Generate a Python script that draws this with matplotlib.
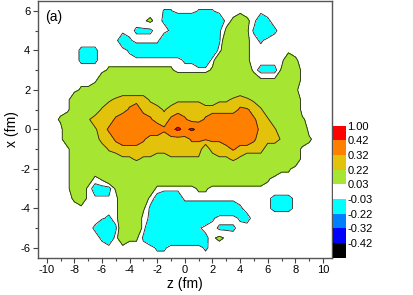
import numpy as np
import matplotlib
matplotlib.use('Agg')
import matplotlib.pyplot as plt
from matplotlib.ticker import MultipleLocator

plt.rcParams['font.family'] = ['Liberation Sans', 'DejaVu Sans']
plt.rcParams['axes.unicode_minus'] = False
plt.rcParams['contour.negative_linestyle'] = 'solid'

# grid nodes (fm)
z_nodes = np.linspace(-10.5, 10.5, 43)
x_nodes = np.linspace(6.5, -6.5, 27)

# value codes used in the field map (per colour band)
code_values = {
    '.': 0.0, 'c': -0.12, 'n': -0.06, 'k': -0.045, 'j': -0.035, 'm': -0.02,
    'p': 0.02, 'h': 0.045, 'g': 0.12, 'G': 0.20, 'w': 0.24, 'y': 0.29,
    'q': 0.33, 'o': 0.37, 'O': 0.40, 'r': 0.435,
}

# run-length encoded rows, x = 6.5 (top) ... -6.5 (bottom), z = -10.5 ... 10.5
field_rows = [
    "43.",
    "18. 2j 3. 3j 17.",
    "15. 1p 1h 1. 1k 8c 1. 1h 1g 1h 1. 1c 1k 9.",
    "14. 3k 2. 1k 6c 1k 1h 2g 1h 1k 2c 1k 8.",
    "12. 1c 1k 4. 8c 1k 3g 1h 1. 1k 10.",
    "6. 3k 4. 1k 12c 1. 3g 1h 12.",
    "6. 3k 12. 2k 2c 1. 4g 1h 5. 1g 1h 5.",
    "10. 10h 5. 1h 5g 1. 3n 1h 2g 5.",
    "9. 23g 3h 3g 5.",
    "6. 2h 29g 1h 5.",
    "5. 5g 1G 1w 4y 1G 3g 4G 2g 2G 1w 1y 1w 1G 6g 5.",
    "5. 4g 1w 3y 1q 1o 3y 1G 10y 2q 1y 1w 5g 5.",
    "3. 1h 3g 1G 3y 1q 4o 1q 2y 1q 1o 1q 2y 1q 6o 1q 1y 1w 4g 1h 4.",
    "4. 4g 1G 1y 1q 7o 1q 1O 1r 1O 1r 1O 8o 2y 1w 4g 4.",
    "4. 5g 2y 1q 3o 1q 6y 5q 4o 1q 3y 1G 3g 1h 3.",
    "5. 5g 1w 13y 1g 3y 1q 4y 5g 5.",
    "5. 7g 2G 1w 2G 2g 5G 2g 2G 1w 1G 8g 5.",
    "5. 30g 2h 6.",
    "5. 3g 1. 1h 23g 1h 9.",
    "5. 2g 1. 3n 1h 5g 6. 2h 18.",
    "5. 1h 1g 1. 3m 1. 4g 1. 1n 3c 12. 1m 3k 1m 5.",
    "12. 3g 1h 1k 12c 1k 3. 1m 3k 1m 5.",
    "9. 1m 1k 1. 3g 1. 1k 8c 1k 3. 1k 1n 12.",
    "8. 1k 2c 1k 3g 1. 7c 1k 2. 3k 14.",
    "9. 1k 1c 1. 1g 2h 1k 8c 1n 1p 1h 1p 15.",
    "17. 2k 5. 1k 18.",
    "43.",
]

levels = [-1.0, -0.42, -0.32, -0.22, -0.03, 0.03, 0.22, 0.32, 0.42, 1.00]
band_colors = ['#000000', '#0000ff', '#0080ff', '#00ffff', '#ffffff',
               '#a6e633', '#e2c20a', '#ff8000', '#ff0000']
cbar_labels = ['-0.42', '-0.32', '-0.22', '-0.03', '0.03', '0.22', '0.32', '0.42', '1.00']


def decode(row):
    out = []
    for tok in row.split():
        out.extend([code_values[tok[-1]]] * int(tok[:-1]))
    if len(out) != len(z_nodes):
        raise ValueError("bad row length %d: %s" % (len(out), row))
    return out


Z = np.array([decode(r) for r in field_rows])

W, H = 414, 295
fig = plt.figure(figsize=(W / 100, H / 100), dpi=100)
ax = fig.add_axes([38 / W, 1 - 257.7 / H, (331.7 - 38) / W, (257.7 - 1) / H])

cf = ax.contourf(z_nodes, x_nodes, Z, levels=levels, colors=band_colors)
ax.contour(z_nodes, x_nodes, Z, levels=levels[1:-1], colors='#222222',
           linewidths=0.6, linestyles='solid')

ax.set_xlim(-10.63, 10.63)
ax.set_ylim(-6.5, 6.5)
ax.xaxis.set_major_locator(MultipleLocator(2))
ax.xaxis.set_minor_locator(MultipleLocator(1))
ax.yaxis.set_major_locator(MultipleLocator(2))
ax.yaxis.set_minor_locator(MultipleLocator(1))
ax.tick_params(which='both', direction='out', top=False, right=False,
               color='#444444', labelsize=8, pad=2)
ax.tick_params(which='major', length=3.5, width=0.8)
ax.tick_params(which='minor', length=2, width=0.8)
for s in ax.spines.values():
    s.set_color('#555555')
    s.set_linewidth(1.0)
ax.set_xlabel('z (fm)', fontsize=10, labelpad=1)
ax.set_ylabel('x (fm)', fontsize=10, labelpad=1)
ax.text(0.024, 0.965, '(a)', transform=ax.transAxes, fontsize=10, va='top', ha='left')

cax = fig.add_axes([333 / W, 1 - 257.5 / H, 13 / W, (257.5 - 125.7) / H])
cb = fig.colorbar(cf, cax=cax, ticks=levels[1:])
cb.ax.set_yticklabels(cbar_labels)
cb.outline.set_visible(False)
cax.tick_params(length=0, labelsize=8, pad=1)

fig.savefig('out.png', dpi=100)
